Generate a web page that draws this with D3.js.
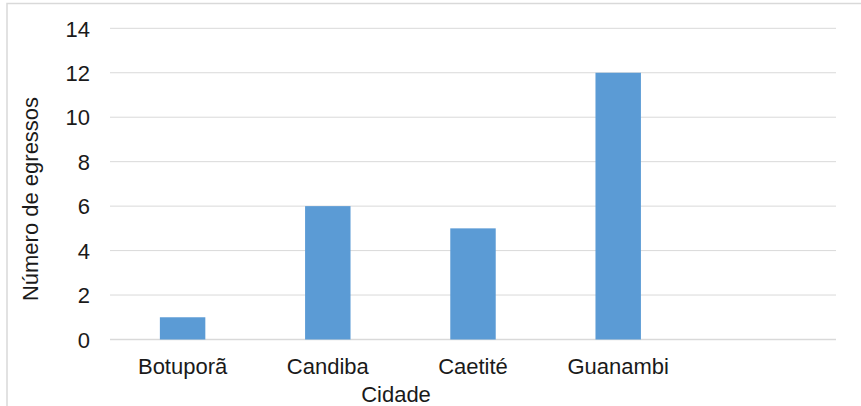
<!DOCTYPE html>
<html>
<head>
<meta charset="utf-8">
<script src="https://cdn.jsdelivr.net/npm/d3@7/dist/d3.min.js"></script>
<style>
  html, body { margin: 0; padding: 0; background: #fff; }
  svg { display: block; }
  text { font-family: "Liberation Sans", Arial, sans-serif; fill: #1a1a1a; }
</style>
</head>
<body>
<svg id="chart" width="861" height="406"></svg>
<script>
// Egressos por cidade
const categories = ["Botuporã", "Candiba", "Caetité", "Guanambi"];
const values = [1, 6, 5, 12];
const yTicks = [0, 2, 4, 6, 8, 10, 12, 14];
const xTitle = "Cidade";
const yTitle = "Número de egressos";

const W = 861, H = 406;
const plot = { left: 110, right: 836, top: 28.3, bottom: 339.5 };
const slots = 5; // the category axis reserves one more (empty) slot on the right

const svg = d3.select("#chart");

// chart area frame
svg.append("rect")
  .attr("x", 7).attr("y", 3.5)
  .attr("width", W + 20).attr("height", H + 20)
  .attr("fill", "#fff")
  .attr("stroke", "#d9d9d9")
  .attr("stroke-width", 1.5);

const step = (plot.right - plot.left) / slots;
const x = d3.scaleBand()
  .domain(categories)
  .range([plot.left, plot.left + step * categories.length])
  .paddingInner(0.687)
  .paddingOuter(0.3435);

const y = d3.scaleLinear()
  .domain([0, 14])
  .range([plot.bottom, plot.top]);

// horizontal gridlines
svg.append("g")
  .selectAll("line")
  .data(yTicks)
  .join("line")
  .attr("x1", plot.left).attr("x2", plot.right)
  .attr("y1", d => y(d)).attr("y2", d => y(d))
  .attr("stroke", "#d9d9d9")
  .attr("stroke-width", d => d === 0 ? 1.5 : 1);

// y tick labels
const yAxis = d3.axisLeft(y).tickValues(yTicks).tickSize(0).tickPadding(0);
const gy = svg.append("g")
  .attr("transform", `translate(${plot.left - 20},0)`)
  .call(yAxis);
gy.select(".domain").remove();
gy.selectAll("text")
  .attr("font-size", 22)
  .attr("font-family", "Liberation Sans, Arial, sans-serif")
  .attr("fill", "#1a1a1a")
  .attr("dy", "0.35em");

// bars
svg.append("g")
  .selectAll("rect")
  .data(categories.map((c, i) => ({ c, v: values[i] })))
  .join("rect")
  .attr("x", d => x(d.c))
  .attr("width", x.bandwidth())
  .attr("y", d => y(d.v))
  .attr("height", d => y(0) - y(d.v))
  .attr("fill", "#5b9bd5");

// category labels
const xAxis = d3.axisBottom(x).tickSize(0).tickPadding(0);
const gx = svg.append("g")
  .attr("transform", `translate(0,${374})`)
  .call(xAxis);
gx.select(".domain").remove();
gx.selectAll("text")
  .attr("font-size", 22)
  .attr("font-family", "Liberation Sans, Arial, sans-serif")
  .attr("fill", "#1a1a1a")
  .attr("dy", 0);

// axis titles
svg.append("text")
  .attr("x", 396).attr("y", 401.5)
  .attr("text-anchor", "middle")
  .attr("font-size", 22)
  .text(xTitle);

svg.append("text")
  .attr("transform", "translate(37.5,199) rotate(-90)")
  .attr("text-anchor", "middle")
  .attr("font-size", 22)
  .text(yTitle);
</script>
</body>
</html>
